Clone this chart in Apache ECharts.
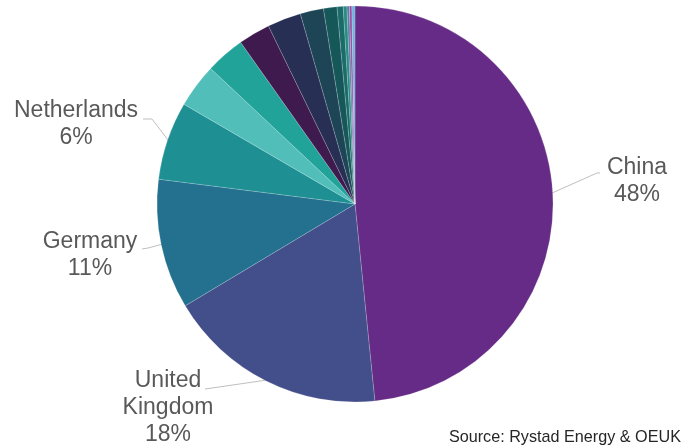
<!DOCTYPE html>
<html>
<head>
<meta charset="utf-8">
<script src="https://cdn.jsdelivr.net/npm/echarts@6/dist/echarts.min.js"></script>
<style>
html,body{margin:0;padding:0;background:#fff;}
#chart{width:692px;height:448px;}
</style>
</head>
<body>
<div id="chart"></div>
<script>
const categories = ['China','United Kingdom','Germany','Netherlands','Other 1','Other 2','Other 3','Other 4','Other 5','Other 6','Other 7','Other 8','Other 9','Other 10','Other 11'];
const values = [48.4, 18.0, 10.6, 6.4, 3.6, 3.2, 2.6, 2.75, 1.9, 1.1, 0.5, 0.3, 0.2, 0.2, 0.25];
const colors = ['#662B86','#434F8B','#24708F','#1E9094','#52BEBA','#21A39A','#3E1A4E','#272F54','#1D4556','#16585A','#1A6B69','#2A8A84','#5A7FA0','#9B4FA8','#70B5DC'];
const labelled = 4;
const labelSpots = [
  {x:637, y:181, line:[[552,193],[597,173],[600,173]]},
  {x:168, y:408, line:[[267,380],[212,388],[205,389]]},
  {x:90,  y:255, line:[[163,244],[148,248],[142,249]]},
  {x:76,  y:124, line:[[168,140],[152,119],[143,119]]}
];

const chart = echarts.init(document.getElementById('chart'));
chart.setOption({
  animation:false,
  series:[{
    type:'pie',
    center:[355,204],
    radius:198,
    startAngle:90,
    clockwise:true,
    percentPrecision:0,
    avoidLabelOverlap:false,
    itemStyle:{borderColor:'rgba(255,255,255,0.35)', borderWidth:0.5},
    label:{
      show:true,
      position:'outside',
      fontFamily:'Liberation Sans, Arial, sans-serif',
      fontSize:23,
      lineHeight:27,
      color:'#595959',
      align:'center',
      formatter:p => p.dataIndex < labelled ? p.name.replace(' ', '\n') + '\n' + p.percent + '%' : ''
    },
    labelLine:{show:true, lineStyle:{color:'#BFBFBF', width:1}, length:10, length2:10},
    labelLayout:function(params){
      const s = labelSpots[params.dataIndex];
      if(!s) return {};
      return {x:s.x, y:s.y, align:'center', verticalAlign:'middle', labelLinePoints:s.line};
    },
    emphasis:{disabled:true},
    data:categories.map((c,i)=>({
      name:c, value:values[i],
      itemStyle:{color:colors[i]},
      label:{show:i<labelled},
      labelLine:{show:i<labelled}
    }))
  }],
  graphic:[{
    type:'text', right:11, bottom:2,
    style:{text:'Source: Rystad Energy & OEUK', font:'16.2px "Liberation Sans", Arial, sans-serif', fill:'#262626'}
  }]
});
</script>
</body>
</html>
